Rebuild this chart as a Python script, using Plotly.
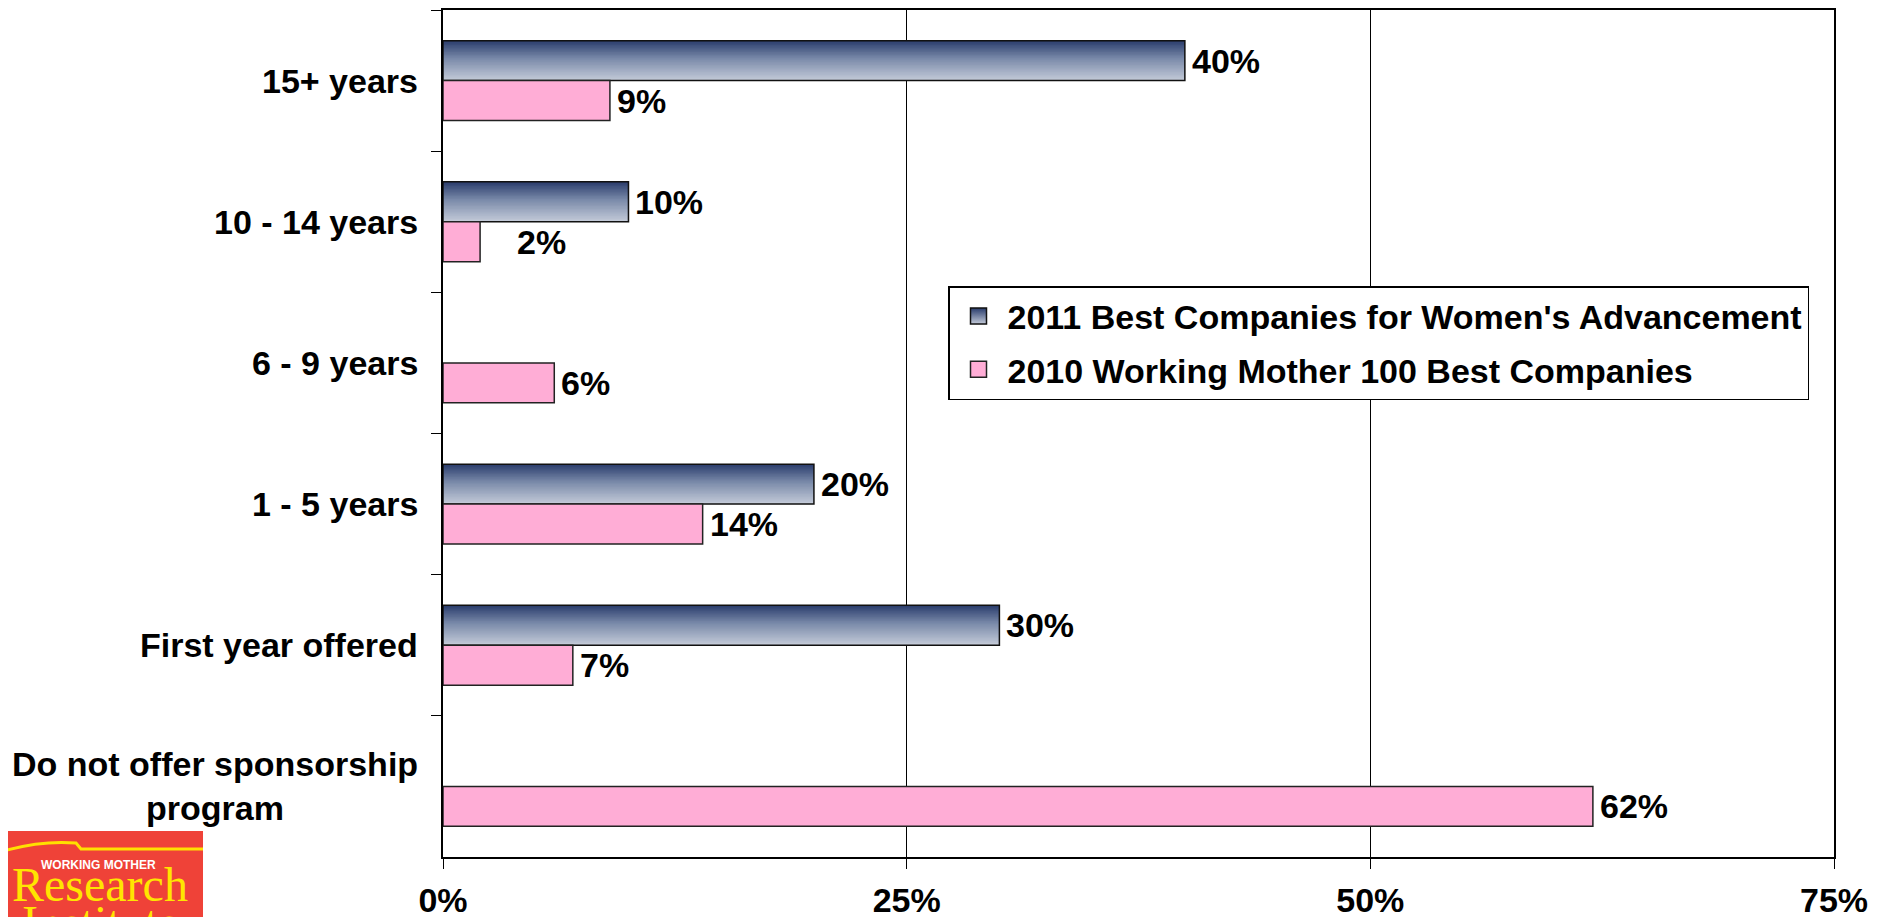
import plotly.graph_objects as go

# ---------------- data ----------------
categories = [
    "15+ years",
    "10 - 14 years",
    "6 - 9 years",
    "1 - 5 years",
    "First year offered",
    "Do not offer sponsorship<br>program",
]
series_2011_name = "2011 Best Companies for Women's Advancement"
series_2010_name = "2010 Working Mother 100 Best Companies"
values_2011 = [40, 10, None, 20, 30, None]
values_2010 = [9, 2, 6, 14, 7, 62]
x_tick_values = [0, 25, 50, 75]
x_tick_labels = ["0%", "25%", "50%", "75%"]

# ---------------- style ----------------
PAGE_OFF = 8            # default body margin of the html page
W, H_FIG = 1879, 909
ML, MR, MT, MB = 435, 53, 2, 60
PW, PH = W - ML - MR, H_FIG - MT - MB
BAR_H = 0.283           # bar thickness in category units
N_STRIPS = 28
FONT = "Liberation Sans, Arial, sans-serif"
FS = 34
PINK = "#FFADD6"
NAVY_DARK = "#293C6C"
NAVY_LIGHT = "#C4CBD9"
label_extra_shift_2010 = {1: 30}   # index -> extra px shift for manually moved label

grad_stops = [(0.0, (0x29, 0x3C, 0x6C)), (0.45, (0x7A, 0x8A, 0xA9)), (1.0, (0xC4, 0xCB, 0xD9))]


def grad_color(t):
    for (t0, c0), (t1, c1) in zip(grad_stops[:-1], grad_stops[1:]):
        if t0 <= t <= t1:
            f = (t - t0) / (t1 - t0)
            c = [round(a + (b - a) * f) for a, b in zip(c0, c1)]
            return "rgb({},{},{})".format(*c)
    return "rgb({},{},{})".format(*grad_stops[-1][1])


def px_x(page_px):
    return (page_px - PAGE_OFF - ML) / PW


def px_y(page_py):
    return 1 - (page_py - PAGE_OFF - MT) / PH


fig = go.Figure()

# gradient 2011 bars, built from stacked-offset strips
for k in range(N_STRIPS):
    top = -BAR_H + k * BAR_H / N_STRIPS
    fig.add_trace(go.Bar(
        y=categories, x=values_2011, orientation="h",
        offset=top, width=-top,
        marker=dict(color=grad_color((k + 0.5) / N_STRIPS), line=dict(width=0)),
        showlegend=False, hoverinfo="skip",
    ))
# outline of 2011 bars
fig.add_trace(go.Bar(
    y=categories, x=values_2011, orientation="h",
    offset=-BAR_H, width=BAR_H,
    marker=dict(color="rgba(0,0,0,0)", line=dict(color="#111111", width=1.5)),
    showlegend=False, name=series_2011_name,
))
# 2010 bars
fig.add_trace(go.Bar(
    y=categories, x=values_2010, orientation="h",
    offset=0, width=BAR_H,
    marker=dict(color=PINK, line=dict(color="#222222", width=1.5)),
    showlegend=False, name=series_2010_name,
))

# legend entries
fig.add_trace(go.Scatter(
    x=[None], y=[None], mode="markers", name=series_2011_name,
    marker=dict(symbol="square", size=16, color=NAVY_DARK,
                gradient=dict(type="vertical", color=NAVY_LIGHT),
                line=dict(color="#111111", width=1.5)),
    legendgroup="a",
))
fig.add_trace(go.Scatter(
    x=[None], y=[None], mode="markers", name=series_2010_name,
    marker=dict(symbol="square", size=16, color=PINK,
                line=dict(color="#222222", width=1.5)),
    legendgroup="b",
))

annotations = []
lab_font = dict(family=FONT, size=FS, color="black", weight="bold")
for i, v in enumerate(values_2011):
    if v is None:
        continue
    annotations.append(dict(x=v, y=i - BAR_H / 2, xref="x", yref="y", text=f"{v}%",
                            showarrow=False, xanchor="left", yanchor="middle",
                            xshift=5, font=lab_font))
for i, v in enumerate(values_2010):
    annotations.append(dict(x=v, y=i + BAR_H / 2, xref="x", yref="y", text=f"{v}%",
                            showarrow=False, xanchor="left", yanchor="middle",
                            xshift=5 + label_extra_shift_2010.get(i, 0), font=lab_font))
# category labels (centered multi-line)
for i, c in enumerate(categories):
    annotations.append(dict(x=0, y=i, xref="paper", yref="y", text=c, showarrow=False,
                            xanchor="right", yanchor="middle", align="center",
                            xshift=-23, font=lab_font))

# logo
serif = "Liberation Serif, Times New Roman, serif"
shapes = [
    dict(type="rect", xref="paper", yref="paper",
         x0=px_x(0), x1=px_x(203), y0=px_y(935), y1=px_y(831),
         fillcolor="#EF4238", line=dict(width=0), layer="above"),
    dict(type="path", xref="paper", yref="paper",
         path="M {},{} Q {},{} {},{} L {},{} L {},{}".format(
             px_x(0), px_y(852), px_x(40), px_y(840), px_x(76), px_y(843),
             px_x(81), px_y(849), px_x(203), px_y(849)),
         line=dict(color="#FFE000", width=3), layer="above"),
]
annotations += [
    dict(x=px_x(98), y=px_y(865), xref="paper", yref="paper", text="WORKING MOTHER",
         showarrow=False, xanchor="center", yanchor="middle",
         font=dict(family=FONT, size=12, color="white", weight="bold")),
    dict(x=px_x(100), y=px_y(884), xref="paper", yref="paper", text="Research",
         showarrow=False, xanchor="center", yanchor="middle",
         font=dict(family=serif, size=48, color="#FFE500")),
    dict(x=px_x(100), y=px_y(922), xref="paper", yref="paper", text="Institute",
         showarrow=False, xanchor="center", yanchor="middle",
         font=dict(family=serif, size=48, color="#FFE500")),
]

fig.update_layout(
    width=W, height=H_FIG,
    margin=dict(l=ML, r=MR, t=MT, b=MB, autoexpand=False),
    paper_bgcolor="white", plot_bgcolor="white",
    barmode="overlay",
    font=dict(family=FONT, size=FS, color="black"),
    showlegend=True,
    legend=dict(x=px_x(948), y=px_y(286), xanchor="left", yanchor="top",
                bgcolor="white", bordercolor="black", borderwidth=1.5,
                font=dict(family=FONT, size=FS, color="black", weight="bold"),
                traceorder="grouped", tracegroupgap=6, itemwidth=48),
    xaxis=dict(range=[0, 75], tickvals=x_tick_values, ticktext=x_tick_labels,
               automargin=False,
               showgrid=True, gridcolor="black", gridwidth=1, zeroline=False,
               showline=True, linecolor="black", linewidth=2, mirror=True,
               ticks="outside", ticklen=10, tickcolor="black", tickwidth=1,
               ticklabelstandoff=2,
               tickfont=dict(family=FONT, size=FS, color="black", weight="bold")),
    yaxis=dict(type="category", range=[5.5, -0.5], showgrid=False, zeroline=False,
               automargin=False,
               showline=True, linecolor="black", linewidth=2, mirror=True,
               ticks="outside", ticklen=10, tickcolor="black", tickwidth=1,
               tickson="boundaries", showticklabels=False),
    annotations=annotations,
    shapes=shapes,
)

fig.write_html("out.html")
